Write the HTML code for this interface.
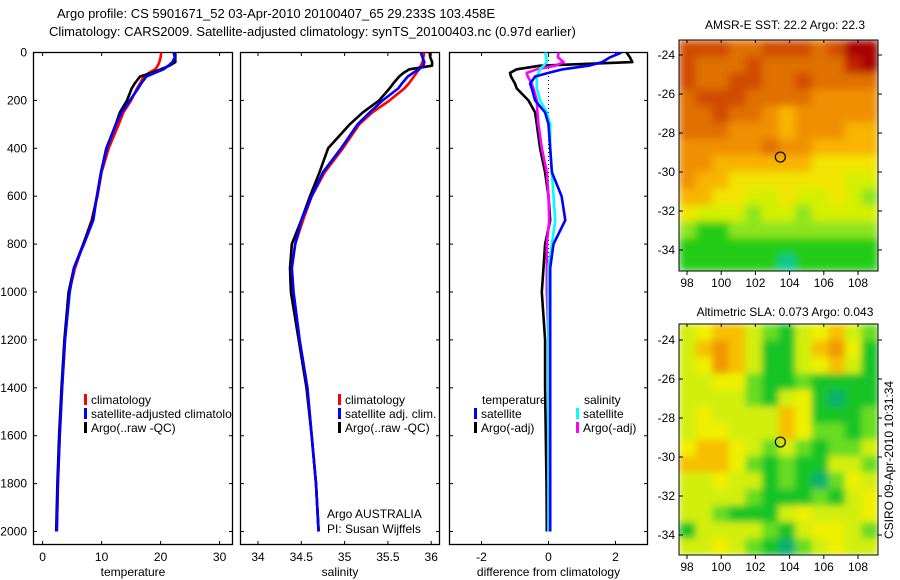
<!DOCTYPE html>
<html><head><meta charset="utf-8">
<style>
html,body{margin:0;padding:0;background:#fff;}
svg{display:block;font-family:"Liberation Sans",sans-serif;}
text{font-size:12px;fill:#000;}
</style></head>
<body>
<svg id="fig" width="900" height="580" viewBox="0 0 900 580" xmlns="http://www.w3.org/2000/svg">
<rect x="0" y="0" width="900" height="580" fill="#fff"/>
<text x="57" y="18" style="font-size:13px">Argo profile: CS 5901671_52 03-Apr-2010 20100407_65 29.233S 103.458E</text>
<text x="49" y="36" style="font-size:13px">Climatology: CARS2009. Satellite-adjusted climatology: synTS_20100403.nc (0.97d earlier)</text>
<g id="plots"></g>
<text x="785" y="29" text-anchor="middle">AMSR-E SST: 22.2 Argo: 22.3</text>
<text x="785" y="316" text-anchor="middle">Altimetric SLA: 0.073 Argo: 0.043</text>
<text transform="translate(893,460) rotate(-90)" text-anchor="middle">CSIRO 09-Apr-2010 10:31:34</text>
</svg>
<script>
// ---------- profile data ----------
const depthsUpper = [0,20,40,55,70,85,100,130,150,200,250,300,400,500,600,700,800,900,1000,1200,1400,1600,1800,2000];
const tempClim   = [20.1,20.0,19.8,19.5,19.1,18.0,17.1,16.5,16.0,15.0,13.7,12.9,11.2,10.0,9.3,8.3,6.9,5.5,4.5,3.8,3.3,2.9,2.6,2.4];
const tempSat    = [22.2,22.4,22.0,21.3,20.5,19.0,17.6,16.7,16.2,14.8,13.4,12.4,10.9,9.9,9.2,8.6,7.0,5.3,4.6,3.8,3.3,2.9,2.6,2.4];
const tempArgo   = [22.5,22.5,22.5,21.5,20.0,18.5,16.5,15.6,15.1,14.3,13.1,12.4,10.8,9.9,9.2,8.4,6.9,5.3,4.4,3.7,3.2,2.8,2.5,2.3];
const salClim    = [35.92,35.91,35.90,35.88,35.86,35.83,35.80,35.74,35.69,35.52,35.32,35.17,34.98,34.77,34.62,34.52,34.43,34.39,34.41,34.48,34.57,34.62,34.67,34.70];
const salSat     = [35.88,35.90,35.92,35.91,35.86,35.79,35.73,35.66,35.62,35.44,35.29,35.15,34.96,34.75,34.62,34.50,34.43,34.39,34.41,34.48,34.57,34.62,34.67,34.70];
const salArgo    = [35.98,35.99,36.01,36.01,35.75,35.68,35.63,35.56,35.52,35.40,35.21,35.06,34.81,34.71,34.60,34.50,34.39,34.37,34.38,34.47,34.56,34.62,34.67,34.70];
const dTempSat   = [2.18,1.84,1.60,1.20,0.43,0.0,-0.40,-0.55,-0.50,-0.40,-0.10,0.0,0.05,0.10,0.39,0.50,0.15,0.05,0.05,0.05,0.05,0.05,0.05,0.05];
const dTempArgo  = [2.33,2.43,2.50,-0.25,-0.95,-1.15,-1.12,-1.0,-0.95,-0.60,-0.40,-0.35,-0.25,-0.10,0.0,0.05,-0.10,-0.15,-0.20,-0.10,-0.10,-0.08,-0.06,-0.05];
const dSalSat    = [-0.10,-0.07,-0.05,-0.15,-0.25,-0.30,-0.35,-0.35,-0.35,-0.25,-0.05,0.05,0.05,0.10,0.15,0.20,0.10,0.0,0.0,0.0,0.0,0.0,0.0,0.0];
const dSalArgo   = [0.30,0.28,0.45,0.20,-0.35,-0.65,-0.62,-0.50,-0.45,-0.35,-0.33,-0.30,-0.20,-0.05,0.0,0.02,-0.05,-0.05,-0.05,0.0,0.0,0.0,0.0,0.0];
const depthTicks = [0,200,400,600,800,1000,1200,1400,1600,1800,2000];
const tempTicks = [0,10,20,30];
const salTicks = [34,34.5,35,35.5,36];
const salTickLabels = ["34","34.5","35","35.5","36"];
const diffTicks = [-2,0,2];
const diffTickLabels = ["-2","0","2"];
// ---------- map data (coarse grid, top row = northern edge) ----------
const sstGrid = [
 [8,8,8,7,7,8,8,8,7,8,10,10],
 [8,7,7,7,8,7,7,7,7,7,9,10],
 [8,7,7,8,8,7,7,8,7,7,7,7],
 [7,8,8,8,7,7,7,7,6,6,6,6],
 [7,7,8,7,7,6,5,6,6,6,6,6],
 [7,7,7,6,6,6,5,6,6,6,5,5],
 [6,6,6,6,6,7,6,6,5,5,5,5],
 [6,6,5,5,5,5,5,5,4,4,4,4],
 [6,5,5,4,4,4,4,4,4,4,3,3],
 [5,5,4,4,3,3,4,3,3,4,3,2],
 [4,3,3,3,2,3,3,2,3,3,3,3],
 [2,1,1,2,2,2,2,2,2,2,2,2],
 [1,1,1,1,1,1,1,1,1,1,1,1],
 [1,1,1,1,1,1,0,1,1,1,1,1]];
const slaGrid = [
 [3,4,5,5,3,2,1,3,4,5,3,2],
 [3,5,6,5,3,1,1,3,5,6,4,1],
 [3,4,6,5,3,1,1,3,4,5,3,1],
 [3,3,4,4,2,1,1,2,1,1,1,1],
 [3,3,3,3,2,1,3,4,1,0,1,1],
 [3,4,3,3,3,3,5,4,1,1,1,2],
 [3,4,4,3,3,3,5,4,2,2,1,2],
 [4,5,5,4,3,2,3,2,1,2,2,3],
 [5,5,5,4,2,1,2,1,1,3,3,2],
 [3,3,4,3,3,1,2,1,0,2,4,3],
 [3,3,3,3,2,1,1,1,2,1,3,4],
 [3,3,2,1,1,1,3,4,3,3,3,4],
 [1,3,3,3,3,2,1,3,4,4,3,2],
 [3,3,4,3,2,1,0,2,3,4,3,3]];
const sstPalette = ["#10c890","#22cc18","#8ee41a","#d4f000","#f2e400","#f8b400","#f09000","#e07000","#d04c00","#c02400","#a80000"];
const slaPalette = ["#10b070","#12c428","#66dc20","#d2ee10","#eef000","#f6c000","#f09800"];
const latTicks = [-24,-26,-28,-30,-32,-34];
const lonTicks = [98,100,102,104,106,108];
const argoLon = 103.458, argoLat = -29.233;

const NS="http://www.w3.org/2000/svg";
const root=document.getElementById('plots');
function mk(tag,attrs,parent){const e=document.createElementNS(NS,tag);for(const k in attrs)e.setAttribute(k,attrs[k]);(parent||root).appendChild(e);return e;}

const axTop=52, axBot=545;
const yDepth=d=>52.5+d*0.2395;
const panels=[
 {x0:33,x1:233,sx:v=>42.6+5.9*v,ticks:tempTicks,labels:tempTicks.map(String),xlabel:"temperature",name:"temperature"},
 {x0:240,x1:440,sx:v=>258+86.6*(v-34),ticks:salTicks,labels:salTickLabels,xlabel:"salinity",name:"salinity"},
 {x0:449,x1:648,sx:v=>548.5+33.5*v,ticks:diffTicks,labels:diffTickLabels,xlabel:"difference from climatology",name:"difference"}
];
panels.forEach((p,i)=>{
  const g=mk('g',{});
  
  
  const cp=mk('clipPath',{id:'clip'+i},g);
  mk('rect',{x:p.x0,y:axTop,width:p.x1-p.x0,height:axBot-axTop},cp);
  p.g=g; p.clip='url(#clip'+i+')';
  const fr=mk('rect',{x:p.x0+0.5,y:axTop+0.5,width:p.x1-p.x0-1,height:axBot-axTop-1,fill:'none',stroke:'#000','stroke-width':1.3},g);
  
  
  p.ticks.forEach((t,j)=>{
    const x=p.sx(t);
    mk('line',{x1:x,x2:x,y1:axBot,y2:axBot-4,stroke:'#000'},g);
    mk('line',{x1:x,x2:x,y1:axTop,y2:axTop+4,stroke:'#000'},g);
    const tl=mk('text',{x:x,y:axBot+16,'text-anchor':'middle'},g);
    tl.textContent=p.labels[j];
    
    
  });
  depthTicks.forEach(d=>{
    const y=yDepth(d);
    mk('line',{x1:p.x0,x2:p.x0+4,y1:y,y2:y,stroke:'#000'},g);
    mk('line',{x1:p.x1-4,x2:p.x1,y1:y,y2:y,stroke:'#000'},g);
    if(i===0){
      const tl=mk('text',{x:27,y:y+4,'text-anchor':'end'},g);
      tl.textContent=String(d);
      
      
    }
  });
  const xl=mk('text',{x:(p.x0+p.x1)/2,y:576,'text-anchor':'middle'},g);
  xl.textContent=p.xlabel;
  
  
});

function line(p,vals,color,name){
  const pts=vals.map((v,k)=>p.sx(v).toFixed(1)+','+yDepth(depthsUpper[k]).toFixed(1)).join(' ');
  const el=mk('polyline',{points:pts,fill:'none',stroke:color,'stroke-width':2.6,'stroke-linejoin':'round','clip-path':p.clip},p.g);
  
  
}
const zl=mk('line',{x1:panels[2].sx(0),x2:panels[2].sx(0),y1:axTop,y2:yDepth(2000),stroke:'#000','stroke-width':1,'stroke-dasharray':'1,3'},panels[2].g);



line(panels[0],tempClim,'#ff0000','temp-climatology-line');
line(panels[0],tempArgo,'#000000','temp-argo-line');
line(panels[0],tempSat,'#0000ff','temp-satellite-line');
line(panels[1],salClim,'#ff0000','sal-climatology-line');
line(panels[1],salArgo,'#000000','sal-argo-line');
line(panels[1],salSat,'#0000ff','sal-satellite-line');
line(panels[2],dTempArgo,'#000000','diff-temp-argo-line');
line(panels[2],dSalArgo,'#ff00ff','diff-sal-argo-line');
line(panels[2],dSalSat,'#00ffff','diff-sal-satellite-line');
line(panels[2],dTempSat,'#0000ff','diff-temp-satellite-line');

function legend(p,x,y,color,label,name){
  const g=mk('g',{'clip-path':p.clip},p.g);
  
  
  if(color) mk('rect',{x:x,y:y-10,width:3,height:11,fill:color},g);
  const t=mk('text',{x:x+(color?7:0),y:y},g);
  t.textContent=label;
}
legend(panels[0],84,404,'#ff0000','climatology','legend-climatology');
legend(panels[0],84,418,'#0000ff','satellite-adjusted climatology','legend-satellite-adjusted');
legend(panels[0],84,432,'#000000','Argo(..raw -QC)','legend-argo-raw');
legend(panels[1],338,404,'#ff0000','climatology','legend-sal-climatology');
legend(panels[1],338,418,'#0000ff','satellite adj. clim.','legend-sal-satellite');
legend(panels[1],338,432,'#000000','Argo(..raw -QC)','legend-sal-argo');
legend(panels[1],327,518,null,'Argo AUSTRALIA','argo-australia-label');
legend(panels[1],327,533,null,'PI: Susan Wijffels','pi-label');
legend(panels[2],482,404,null,'temperature','legend-temperature-heading');
legend(panels[2],474,418,'#0000ff','satellite','legend-temp-satellite');
legend(panels[2],474,432,'#000000','Argo(-adj)','legend-temp-argo');
legend(panels[2],584,404,null,'salinity','legend-salinity-heading');
legend(panels[2],576,418,'#00ffff','satellite','legend-sal-satellite-diff');
legend(panels[2],576,432,'#ff00ff','Argo(-adj)','legend-sal-argo-diff');

function drawMap(grid,pal,y0,y1,lat24y,name,blur){
  const x0=679,x1=878;
  const g=mk('g',{});
  
  
  const rows=grid.length, cols=grid[0].length;
  const cw=(x1-x0)/cols, ch=(y1-y0)/rows;
  const fid='blur'+name;
  const f=mk('filter',{id:fid,x:'0',y:'0',width:'1',height:'1'},g);
  mk('feGaussianBlur',{stdDeviation:blur,edgeMode:'duplicate'},f);
  const cpid='mclip'+name;
  const cp=mk('clipPath',{id:cpid},g);
  mk('rect',{x:x0,y:y0,width:x1-x0,height:y1-y0},cp);
  const cg=mk('g',{filter:'url(#'+fid+')','clip-path':'url(#'+cpid+')'},g);
  grid.forEach((row,r)=>row.forEach((v,c)=>{
    const cell=mk('rect',{x:x0+c*cw,y:y0+r*ch,width:cw+0.6,height:ch+0.6,fill:pal[v]},cg);
    
    
  }));
  mk('rect',{x:x0,y:y0,width:x1-x0,height:y1-y0,fill:'none',stroke:'#000','stroke-width':1},g);
  const lonX=lon=>687+17.1*(lon-98);
  const latY=lat=>lat24y+19.5*(-lat-24);
  latTicks.forEach(l=>{
    const y=latY(l);
    mk('line',{x1:x0,x2:x0+4,y1:y,y2:y,stroke:'#000'},g);
    mk('line',{x1:x1,x2:x1+4,y1:y,y2:y,stroke:'#000'},g);
    const t=mk('text',{x:675,y:y+4,'text-anchor':'end'},g);
    t.textContent=String(l);
    
    
  });
  lonTicks.forEach(l=>{
    const x=lonX(l);
    mk('line',{x1:x,x2:x,y1:y1,y2:y1+4,stroke:'#000'},g);
    mk('line',{x1:x,x2:x,y1:y0,y2:y0+3,stroke:'#000'},g);
    const t=mk('text',{x:x,y:y1+16,'text-anchor':'middle'},g);
    t.textContent=String(l);
    
    
  });
  const c=mk('circle',{cx:lonX(argoLon),cy:latY(argoLat),r:5,fill:'none',stroke:'#000','stroke-width':1.2},g);
  
  
}
drawMap(sstGrid,sstPalette,40,271,55,'sst-map',4);
drawMap(slaGrid,slaPalette,324,555,340,'sla-map',3.5);
</script>
</body></html>
